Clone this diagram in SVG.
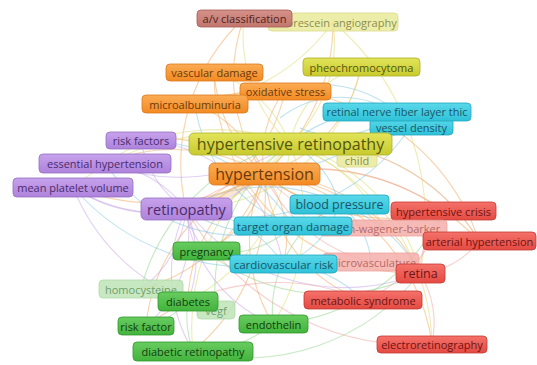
<svg xmlns="http://www.w3.org/2000/svg" width="537" height="365" viewBox="0 0 537 365">
<defs>
<linearGradient id="gOr" x1="0" y1="0" x2="0" y2="1"><stop offset="0" stop-color="#fbac55"/><stop offset="1" stop-color="#f38a22"/></linearGradient>
<linearGradient id="gYe" x1="0" y1="0" x2="0" y2="1"><stop offset="0" stop-color="#e2e45a"/><stop offset="1" stop-color="#c8ca2e"/></linearGradient>
<linearGradient id="gCy" x1="0" y1="0" x2="0" y2="1"><stop offset="0" stop-color="#5ad8ea"/><stop offset="1" stop-color="#2ec2d8"/></linearGradient>
<linearGradient id="gPu" x1="0" y1="0" x2="0" y2="1"><stop offset="0" stop-color="#c7a2ec"/><stop offset="1" stop-color="#ae82dc"/></linearGradient>
<linearGradient id="gRe" x1="0" y1="0" x2="0" y2="1"><stop offset="0" stop-color="#f4726a"/><stop offset="1" stop-color="#e44a42"/></linearGradient>
<linearGradient id="gGr" x1="0" y1="0" x2="0" y2="1"><stop offset="0" stop-color="#68cc60"/><stop offset="1" stop-color="#42b43c"/></linearGradient>
<linearGradient id="gBr" x1="0" y1="0" x2="0" y2="1"><stop offset="0" stop-color="#d59189"/><stop offset="1" stop-color="#c2766d"/></linearGradient>
</defs>
<style>
text{font-family:"Open Sans","DejaVu Sans",sans-serif;font-size:11px;text-anchor:middle;dominant-baseline:central}
.or rect{fill:url(#gOr);stroke:#d9791c;stroke-width:.8}
.or text{fill:#6b3a0c}
.ye rect{fill:url(#gYe);stroke:#adb024;stroke-width:.8}
.ye text{fill:#54560e}
.cy rect{fill:url(#gCy);stroke:#1fa6bb;stroke-width:.8}
.cy text{fill:#1b5666}
.pu rect{fill:url(#gPu);stroke:#9470c0;stroke-width:.8}
.pu text{fill:#4a2c6a}
.re rect{fill:url(#gRe);stroke:#c33a33;stroke-width:.8}
.re text{fill:#6e1414}
.gr rect{fill:url(#gGr);stroke:#31982c;stroke-width:.8}
.gr text{fill:#143d12}
.br rect{fill:url(#gBr);stroke:#a45c55;stroke-width:.8}
.br text{fill:#4d231f}
.fye rect{fill:#eaea9c;stroke:#d6d67a;stroke-width:.8;opacity:.85}
.fye text{fill:#8e8e4e}
.fre rect{fill:#f6b0ab;stroke:#eb9690;stroke-width:.8;opacity:.85}
.fre text{fill:#b86a66}
.fgr rect{fill:#bfe5b8;stroke:#a2d49a;stroke-width:.8;opacity:.85}
.fgr text{fill:#6f9f6a}
#edges path{fill:none;stroke-width:1.1;stroke-opacity:.5}
.eo{stroke:#f2a85c}
.ey{stroke:#dcdc6a}
.eb{stroke:#7ec6e4}
.ep{stroke:#c8a6e8}
.eg{stroke:#8fd48a}
.er{stroke:#f0a2a0}
</style>
<rect width="537" height="365" fill="#ffffff"/>
<g id="edges">
<path class="eo" d="M264 174 A170 170 0 0 1 244 18"/>
<path class="eo" d="M264 174 A150 150 0 0 1 214 72"/>
<path class="eo" d="M264 174 A120 120 0 0 0 195 104"/>
<path class="eo" d="M264 174 A110 110 0 0 1 285 90"/>
<path class="eo" d="M264 174 A180 180 0 0 0 105 163"/>
<path class="eo" d="M264 174 A220 220 0 0 1 73 187"/>
<path class="eo" d="M264 174 A160 160 0 0 0 141 140"/>
<path class="eo" d="M264 174 A120 120 0 0 0 339 204"/>
<path class="eo" d="M264 174 A200 200 0 0 0 443 211"/>
<path class="eo" d="M264 174 A230 230 0 0 1 479 241"/>
<path class="eo" d="M264 174 A180 180 0 0 1 420 273"/>
<path class="eo" d="M264 174 A150 150 0 0 0 363 300"/>
<path class="eo" d="M264 174 A200 200 0 0 1 432 344"/>
<path class="eo" d="M264 174 A150 150 0 0 0 188 301"/>
<path class="eo" d="M264 174 A200 200 0 0 1 193 351"/>
<path class="eo" d="M264 174 A100 100 0 0 1 206 251"/>
<path class="eo" d="M264 174 A160 160 0 0 0 273 324"/>
<path class="eo" d="M264 174 A180 180 0 0 0 146 326"/>
<path class="eo" d="M264 174 A180 180 0 0 1 141 289"/>
<path class="eo" d="M264 174 A140 140 0 0 0 361 67"/>
<path class="eo" d="M264 174 A200 200 0 0 1 383 227"/>
<path class="eo" d="M264 174 A100 100 0 0 1 283 264"/>
<path class="eo" d="M264 174 A200 200 0 0 0 333 22"/>
<path class="eo" d="M214 72 A200 200 0 0 0 420 273"/>
<path class="eo" d="M195 104 A220 220 0 0 1 479 241"/>
<path class="eo" d="M285 90 A160 160 0 0 1 186 209"/>
<path class="eo" d="M244 18 A200 200 0 0 0 186 209"/>
<path class="ey" d="M290 144 A140 140 0 0 0 333 22"/>
<path class="ey" d="M290 144 A100 100 0 0 1 361 67"/>
<path class="ey" d="M290 144 A130 130 0 0 1 186 209"/>
<path class="ey" d="M290 144 A60 60 0 0 1 357 158"/>
<path class="ey" d="M290 144 A220 220 0 0 0 193 351"/>
<path class="ey" d="M290 144 A180 180 0 0 1 420 273"/>
<path class="ey" d="M290 144 A150 150 0 0 1 244 18"/>
<path class="ey" d="M290 144 A190 190 0 0 1 188 301"/>
<path class="ey" d="M290 144 A200 200 0 0 0 105 163"/>
<path class="ey" d="M290 144 A150 150 0 0 1 383 227"/>
<path class="ey" d="M290 144 A200 200 0 0 1 479 241"/>
<path class="ey" d="M290 144 A220 220 0 0 1 432 344"/>
<path class="ey" d="M290 144 A240 240 0 0 0 73 187"/>
<path class="ey" d="M290 144 A200 200 0 0 1 273 324"/>
<path class="ey" d="M290 144 A120 120 0 0 0 214 72"/>
<path class="ey" d="M333 22 A200 200 0 0 1 195 104"/>
<path class="ey" d="M361 67 A180 180 0 0 1 186 209"/>
<path class="ey" d="M333 22 A260 260 0 0 1 420 273"/>
<path class="eb" d="M339 204 A150 150 0 0 1 420 273"/>
<path class="eb" d="M339 204 A160 160 0 0 0 186 209"/>
<path class="eb" d="M339 204 A90 90 0 0 0 290 144"/>
<path class="eb" d="M339 204 A90 90 0 0 1 283 264"/>
<path class="eb" d="M339 204 A80 80 0 0 1 371 262"/>
<path class="eb" d="M293 226 A150 150 0 0 1 195 104"/>
<path class="eb" d="M293 226 A120 120 0 0 1 186 209"/>
<path class="eb" d="M293 226 A180 180 0 0 0 141 140"/>
<path class="eb" d="M283 264 A230 230 0 0 1 73 187"/>
<path class="eb" d="M283 264 A120 120 0 0 0 186 209"/>
<path class="eb" d="M283 264 A120 120 0 0 1 363 300"/>
<path class="eb" d="M397 112 A140 140 0 0 0 290 144"/>
<path class="eb" d="M397 112 A120 120 0 0 0 285 90"/>
<path class="eb" d="M411 126 A150 150 0 0 1 290 144"/>
<path class="eb" d="M397 112 A90 90 0 0 1 300 128"/>
<path class="eb" d="M411 126 A100 100 0 0 0 280 118"/>
<path class="eb" d="M397 112 A200 200 0 0 1 264 174"/>
<path class="eb" d="M411 126 A200 200 0 0 1 186 209"/>
<path class="eb" d="M293 226 A160 160 0 0 1 105 163"/>
<path class="ep" d="M186 209 A120 120 0 0 0 105 163"/>
<path class="ep" d="M186 209 A140 140 0 0 1 73 187"/>
<path class="ep" d="M186 209 A100 100 0 0 1 141 140"/>
<path class="ep" d="M186 209 A120 120 0 0 1 188 301"/>
<path class="ep" d="M186 209 A150 150 0 0 0 193 351"/>
<path class="ep" d="M186 209 A200 200 0 0 0 420 273"/>
<path class="ep" d="M186 209 A110 110 0 0 1 141 289"/>
<path class="ep" d="M186 209 A80 80 0 0 0 206 251"/>
<path class="ep" d="M186 209 A140 140 0 0 0 273 324"/>
<path class="ep" d="M186 209 A120 120 0 0 1 146 326"/>
<path class="ep" d="M73 187 A160 160 0 0 0 264 174"/>
<path class="ep" d="M105 163 A200 200 0 0 0 290 144"/>
<path class="ep" d="M141 140 A150 150 0 0 1 283 264"/>
<path class="ep" d="M73 187 A200 200 0 0 0 188 301"/>
<path class="eg" d="M193 351 A100 100 0 0 1 188 301"/>
<path class="eg" d="M193 351 A120 120 0 0 0 273 324"/>
<path class="eg" d="M193 351 A220 220 0 0 0 420 273"/>
<path class="eg" d="M206 251 A100 100 0 0 0 293 226"/>
<path class="eg" d="M273 324 A200 200 0 0 0 443 211"/>
<path class="eg" d="M146 326 A80 80 0 0 0 188 301"/>
<path class="eg" d="M141 289 A200 200 0 0 1 290 144"/>
<path class="eg" d="M216 310 A180 180 0 0 1 290 144"/>
<path class="eg" d="M206 251 A200 200 0 0 0 420 273"/>
<path class="eg" d="M273 324 A120 120 0 0 1 339 204"/>
<path class="er" d="M420 273 A80 80 0 0 0 479 241"/>
<path class="er" d="M420 273 A100 100 0 0 1 443 211"/>
<path class="er" d="M363 300 A130 130 0 0 0 443 211"/>
<path class="er" d="M432 344 A100 100 0 0 0 420 273"/>
<path class="er" d="M432 344 A260 260 0 0 1 186 209"/>
<path class="er" d="M479 241 A200 200 0 0 0 290 144"/>
<path class="er" d="M443 211 A220 220 0 0 0 186 209"/>
<path class="er" d="M383 227 A150 150 0 0 1 264 174"/>
<path class="er" d="M371 262 A160 160 0 0 1 264 174"/>
<path class="er" d="M363 300 A220 220 0 0 0 146 326"/>
<path class="eo" d="M264 174 Q228 196 186 209" style="stroke-width:6;stroke-opacity:.3"/>
<path class="ey" d="M290 144 Q278 158 264 174" style="stroke-width:4;stroke-opacity:.3"/>
</g>
<g id="n-fluorescein-angiography" class="fye"><rect x="268" y="13" width="130" height="18" rx="4"/><text x="335" y="22">fluorescein angiography</text></g>
<g id="n-av-classification" class="br"><rect x="197" y="10" width="95" height="17" rx="4"/><text x="244.5" y="18.5">a/v classification</text></g>
<g id="n-vascular-damage" class="or"><rect x="166" y="64" width="97" height="17" rx="4"/><text x="214.5" y="72.5">vascular damage</text></g>
<g id="n-pheochromocytoma" class="ye"><rect x="303" y="58" width="117" height="18" rx="4"/><text x="361.5" y="67">pheochromocytoma</text></g>
<g id="n-oxidative-stress" class="or"><rect x="240" y="83" width="91" height="17" rx="4"/><text x="285.5" y="91.5">oxidative stress</text></g>
<g id="n-microalbuminuria" class="or"><rect x="142" y="95" width="106" height="18" rx="4"/><text x="195" y="104">microalbuminuria</text></g>
<g id="n-vessel-density" class="cy"><rect x="370" y="118" width="83" height="17" rx="4"/><text x="411.5" y="127.5">vessel density</text></g>
<g id="n-rnfl" class="cy"><rect x="323" y="103" width="148" height="18" rx="4"/><text x="397" y="111.5">retinal nerve fiber layer thic</text></g>
<g id="n-risk-factors" class="pu"><rect x="106" y="132" width="70" height="17" rx="4"/><text x="141" y="140.5">risk factors</text></g>
<g id="n-child" class="fye"><rect x="337" y="150" width="40" height="17" rx="4"/><text x="357" y="160">child</text></g>
<g id="n-hypertensive-retinopathy" class="ye"><rect x="189" y="133" width="203" height="22" rx="5"/><text x="290.5" y="144" style="font-size:16px">hypertensive retinopathy</text></g>
<g id="n-essential-hypertension" class="pu"><rect x="39" y="154" width="132" height="19" rx="4"/><text x="105" y="163.5">essential hypertension</text></g>
<g id="n-hypertension" class="or"><rect x="209" y="163" width="111" height="22" rx="5"/><text x="264.5" y="174" style="font-size:16px">hypertension</text></g>
<g id="n-mean-platelet-volume" class="pu"><rect x="13" y="178" width="120" height="19" rx="4"/><text x="73" y="187.5">mean platelet volume</text></g>
<g id="n-retinopathy" class="pu"><rect x="141" y="198" width="91" height="22" rx="5"/><text x="186.5" y="209" style="font-size:14.5px">retinopathy</text></g>
<g id="n-blood-pressure" class="cy"><rect x="290" y="195" width="99" height="19" rx="4"/><text x="339.5" y="204.5" style="font-size:12.5px">blood pressure</text></g>
<g id="n-hypertensive-crisis" class="re"><rect x="391" y="202" width="105" height="18" rx="4"/><text x="443.5" y="211">hypertensive crisis</text></g>
<g id="n-keith-wagener-barker" class="fre"><rect x="320" y="220" width="127" height="16" rx="4"/><text x="385" y="228">keith-wagener-barker</text></g>
<g id="n-target-organ-damage" class="cy"><rect x="234" y="217" width="118" height="18" rx="4"/><text x="293" y="226" style="font-size:11.5px">target organ damage</text></g>
<g id="n-arterial-hypertension" class="re"><rect x="423" y="232" width="113" height="18" rx="4"/><text x="479.5" y="241">arterial hypertension</text></g>
<g id="n-pregnancy" class="gr"><rect x="173" y="242" width="67" height="18" rx="4"/><text x="206.5" y="251">pregnancy</text></g>
<g id="n-microvasculature" class="fre"><rect x="323" y="253" width="96" height="18" rx="4"/><text x="372" y="262">microvasculature</text></g>
<g id="n-cardiovascular-risk" class="cy"><rect x="230" y="255" width="107" height="18" rx="4"/><text x="283.5" y="264" style="font-size:11.5px">cardiovascular risk</text></g>
<g id="n-retina" class="re"><rect x="396" y="264" width="49" height="19" rx="4"/><text x="420.5" y="273.5" style="font-size:12.5px">retina</text></g>
<g id="n-homocysteine" class="fgr"><rect x="99" y="280" width="84" height="18" rx="4"/><text x="141" y="289">homocysteine</text></g>
<g id="n-vegf" class="fgr"><rect x="197" y="301" width="38" height="18" rx="4"/><text x="216" y="310">vegf</text></g>
<g id="n-diabetes" class="gr"><rect x="158" y="292" width="60" height="19" rx="4"/><text x="188" y="301.5">diabetes</text></g>
<g id="n-metabolic-syndrome" class="re"><rect x="304" y="291" width="118" height="18" rx="4"/><text x="363" y="300">metabolic syndrome</text></g>
<g id="n-risk-factor" class="gr"><rect x="118" y="317" width="56" height="18" rx="4"/><text x="146" y="326">risk factor</text></g>
<g id="n-endothelin" class="gr"><rect x="239" y="315" width="69" height="18" rx="4"/><text x="273.5" y="324">endothelin</text></g>
<g id="n-diabetic-retinopathy" class="gr"><rect x="133" y="342" width="120" height="19" rx="4"/><text x="193" y="351.5">diabetic retinopathy</text></g>
<g id="n-electroretinography" class="re"><rect x="377" y="336" width="110" height="17" rx="4"/><text x="432" y="344.5">electroretinography</text></g>
</svg>
